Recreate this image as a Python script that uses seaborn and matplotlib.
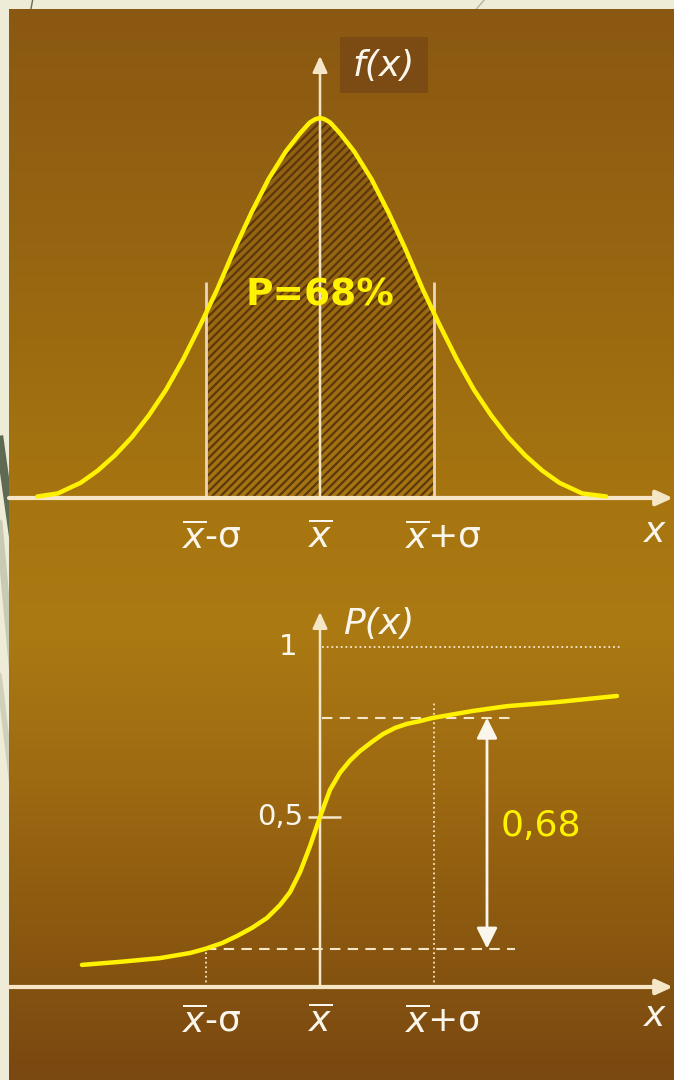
import numpy as np
import seaborn as sns
import matplotlib
matplotlib.use("Agg")
import matplotlib.pyplot as plt
from matplotlib.colors import LinearSegmentedColormap
from matplotlib.patches import Rectangle

# Density curve f(x): position in units of sigma from the mean, height relative to the peak
density_x = [-2.48, -2.30, -2.10, -1.95, -1.80, -1.65, -1.50, -1.35, -1.20, -1.05, -0.90,
             -0.75, -0.60, -0.45, -0.30, -0.18, -0.09, -0.04, 0.0, 0.04, 0.09, 0.18, 0.30,
             0.45, 0.60, 0.75, 0.90, 1.05, 1.20, 1.35, 1.50, 1.65, 1.80, 1.95, 2.10, 2.30, 2.51]
density_y = [0.004, 0.012, 0.040, 0.072, 0.112, 0.160, 0.218, 0.285, 0.365, 0.455, 0.550,
             0.655, 0.752, 0.840, 0.912, 0.958, 0.988, 0.997, 1.0, 0.997, 0.988, 0.958, 0.912,
             0.840, 0.752, 0.655, 0.550, 0.455, 0.365, 0.285, 0.218, 0.160, 0.112, 0.072,
             0.040, 0.012, 0.004]

# Cumulative curve P(x)
cdf_x = [-2.088, -1.754, -1.404, -1.140, -1.009, -0.860, -0.728, -0.596, -0.465, -0.351,
         -0.263, -0.175, -0.088, 0.0, 0.088, 0.175, 0.263, 0.351, 0.456, 0.553, 0.658, 0.763,
         0.877, 0.982, 1.342, 1.640, 2.079, 2.605]
cdf_y = [0.065, 0.074, 0.085, 0.100, 0.112, 0.129, 0.150, 0.174, 0.203, 0.241,
         0.279, 0.338, 0.414, 0.5, 0.580, 0.630, 0.666, 0.694, 0.721, 0.744, 0.762, 0.774,
         0.782, 0.791, 0.812, 0.826, 0.838, 0.856]

sigma_pos = [-1.0, 0.0, 1.0]
sigma_labels = [r'$\overline{x}$-σ', r'$\overline{x}$', r'$\overline{x}$+σ']
prob_ticks = [0.5, 1.0]
prob_labels = ['0,5', '1']
area_label = 'P=68%'
span_label = '0,68'

W, H = 674, 1080
sns.set_theme(style='white')
plt.rcParams['font.family'] = ['DejaVu Sans']
plt.rcParams['mathtext.fontset'] = 'dejavusans'
plt.rcParams['hatch.linewidth'] = 1.6

YELLOW = '#FFF200'
CREAM = '#F6E6C8'
WHITE = '#FBF6EC'
HATCH = '#5A380C'

fig = plt.figure(figsize=(W / 100, H / 100), dpi=100, facecolor='#EEEBD6')


def px_axes(x0, y0, x1, y1, z):
    ax = fig.add_axes([x0 / W, 1 - y1 / H, (x1 - x0) / W, (y1 - y0) / H], zorder=z)
    ax.set_facecolor('none')
    ax.axis('off')
    return ax


# slide background ornaments
deco = px_axes(0, 0, W, H, 0)
deco.set_xlim(0, W)
deco.set_ylim(H, 0)
deco.plot([-6, 14], [400, 543], color='#5E6A52', lw=6, solid_capstyle='butt')
deco.plot([-4, 14], [490, 686], color='#C8CAB2', lw=5)
deco.plot([-4, 14], [650, 801], color='#D0D0BA', lw=4)
deco.plot([33, 30], [-2, 14], color='#6A6A55', lw=1)
deco.plot([486, 472], [-2, 14], color='#B5B5A5', lw=1)

# gradient panel
panel = px_axes(9, 9, W, H, 1)
grad = LinearSegmentedColormap.from_list('panel', [
    (0.0, '#8A5812'), (0.25, '#986711'), (0.45, '#A67510'), (0.58, '#AB7A13'),
    (0.72, '#9E6A12'), (0.88, '#88560F'), (1.0, '#7A4811')])
panel.imshow(np.linspace(0, 1, 256)[:, None], aspect='auto', cmap=grad,
             extent=[0, 1, 1, 0])
panel.set_xlim(0, 1)
panel.set_ylim(1, 0)

# ---------- density f(x) ----------
X = lambda px: (px - 320) / 114.0
Y1 = lambda py: (498 - py) / 380.0
ax1 = px_axes(9, 20, W, 580, 2)
sns.lineplot(x=density_x, y=density_y, ax=ax1, color=YELLOW, linewidth=3.2, zorder=5)
ax1.lines[-1].set_solid_joinstyle('round')
ax1.axis('off')
ax1.set_xlim(X(9), X(W))
ax1.set_ylim(Y1(580), Y1(20))

fill = ax1.fill_between(density_x, 0, density_y, facecolor='none', edgecolor=HATCH,
                        hatch='////', linewidth=0, zorder=2)
fill.set_clip_path(Rectangle((sigma_pos[0], 0), sigma_pos[2] - sigma_pos[0], 1.2,
                             transform=ax1.transData))

ax1.vlines([sigma_pos[0], sigma_pos[2]], 0, Y1(282), color='#EAD6B8', lw=2, zorder=3)
arrow_kw = dict(color=CREAM, shrinkA=0, shrinkB=0, mutation_scale=18)
ax1.annotate('', xy=(0, Y1(56)), xytext=(0, 0), annotation_clip=False,
             arrowprops=dict(arrowstyle='-|>,head_length=0.55,head_width=0.25', lw=1.8,
                             **arrow_kw), zorder=4)
ax1.annotate('', xy=(X(673), 0), xytext=(X(9), 0), annotation_clip=False,
             arrowprops=dict(arrowstyle='-|>,head_length=0.55,head_width=0.25', lw=3,
                             **arrow_kw), zorder=4)

ax1.add_patch(Rectangle((X(340), Y1(93)), X(428) - X(340), Y1(37) - Y1(93),
                        facecolor='#7B4B13', edgecolor='none', zorder=3, clip_on=False))
ax1.text(X(384), Y1(66), 'f(x)', fontsize=26, style='italic', color=WHITE,
         ha='center', va='center', zorder=6)
ax1.text(0, Y1(296), area_label, fontsize=27, fontweight='bold', color=YELLOW,
         ha='center', va='center', zorder=6)

label_dx = [6, 0, 9]
for pos, lab, dx in zip(sigma_pos, sigma_labels, label_dx):
    ax1.text(pos + dx / 114.0, Y1(538), lab, fontsize=26, color=WHITE,
             ha='center', va='center', zorder=6)
ax1.text(X(655), Y1(532), r'$x$', fontsize=26, color=WHITE, ha='center', va='center')

# ---------- cumulative P(x) ----------
Y2 = lambda py: (987 - py) / 340.0
ax2 = px_axes(9, 590, W, 1075, 2)
sns.lineplot(x=cdf_x, y=cdf_y, ax=ax2, color=YELLOW, linewidth=3.2, zorder=5)
ax2.lines[-1].set_solid_joinstyle('round')
ax2.axis('off')
ax2.set_xlim(X(9), X(W))
ax2.set_ylim(Y2(1075), Y2(590))

p_lo = float(np.interp(sigma_pos[0], cdf_x, cdf_y))
p_hi = float(np.interp(sigma_pos[2], cdf_x, cdf_y))

ax2.annotate('', xy=(X(673), 0), xytext=(X(9), 0), annotation_clip=False,
             arrowprops=dict(arrowstyle='-|>,head_length=0.55,head_width=0.25', lw=3,
                             **arrow_kw), zorder=4)
ax2.annotate('', xy=(0, Y2(612)), xytext=(0, 0), annotation_clip=False,
             arrowprops=dict(arrowstyle='-|>,head_length=0.55,head_width=0.25', lw=1.8,
                             **arrow_kw), zorder=4)

# reference levels
ax2.hlines(prob_ticks[1], X(322), X(620), color=CREAM, lw=1.3, linestyles=(0, (1, 1.6)),
           zorder=3)
ax2.hlines(prob_ticks[0], X(308), X(341), color=CREAM, lw=1.8, zorder=4)
ax2.text(X(303), prob_ticks[0], prob_labels[0], fontsize=21, color=WHITE,
         ha='right', va='center')
ax2.text(X(288), prob_ticks[1], prob_labels[1], fontsize=21, color=WHITE,
         ha='center', va='center')
ax2.text(X(379), Y2(624), 'P(x)', fontsize=26, style='italic', color=WHITE,
         ha='center', va='center')

ax2.hlines(p_hi, X(322), X(515), color=CREAM, lw=1.5, linestyles=(0, (5, 3.5)), zorder=3)
ax2.hlines(p_lo, sigma_pos[0], X(515), color=CREAM, lw=1.5, linestyles=(0, (5, 3.5)),
           zorder=3)
ax2.vlines(sigma_pos[0], 0, p_lo, color=CREAM, lw=1.3, linestyles=(0, (1, 1.6)), zorder=3)
ax2.vlines(sigma_pos[2], 0, p_hi + 0.05, color=CREAM, lw=1.3, linestyles=(0, (1, 1.6)),
           zorder=3)

ax2.annotate('', xy=(X(487), p_lo), xytext=(X(487), p_hi), annotation_clip=False,
             arrowprops=dict(arrowstyle='<|-|>,head_length=0.7,head_width=0.35', lw=2,
                             color=WHITE, shrinkA=0, shrinkB=0, mutation_scale=18), zorder=4)
ax2.text(X(541), (p_lo + p_hi) / 2 + 0.02, span_label, fontsize=26, color=YELLOW,
         ha='center', va='center')

for pos, lab, dx in zip(sigma_pos, sigma_labels, label_dx):
    ax2.text(pos + dx / 114.0, Y2(1022), lab, fontsize=26, color=WHITE,
             ha='center', va='center', zorder=6)
ax2.text(X(655), Y2(1016), r'$x$', fontsize=26, color=WHITE, ha='center', va='center')

fig.savefig('out.png', dpi=100, facecolor=fig.get_facecolor())
